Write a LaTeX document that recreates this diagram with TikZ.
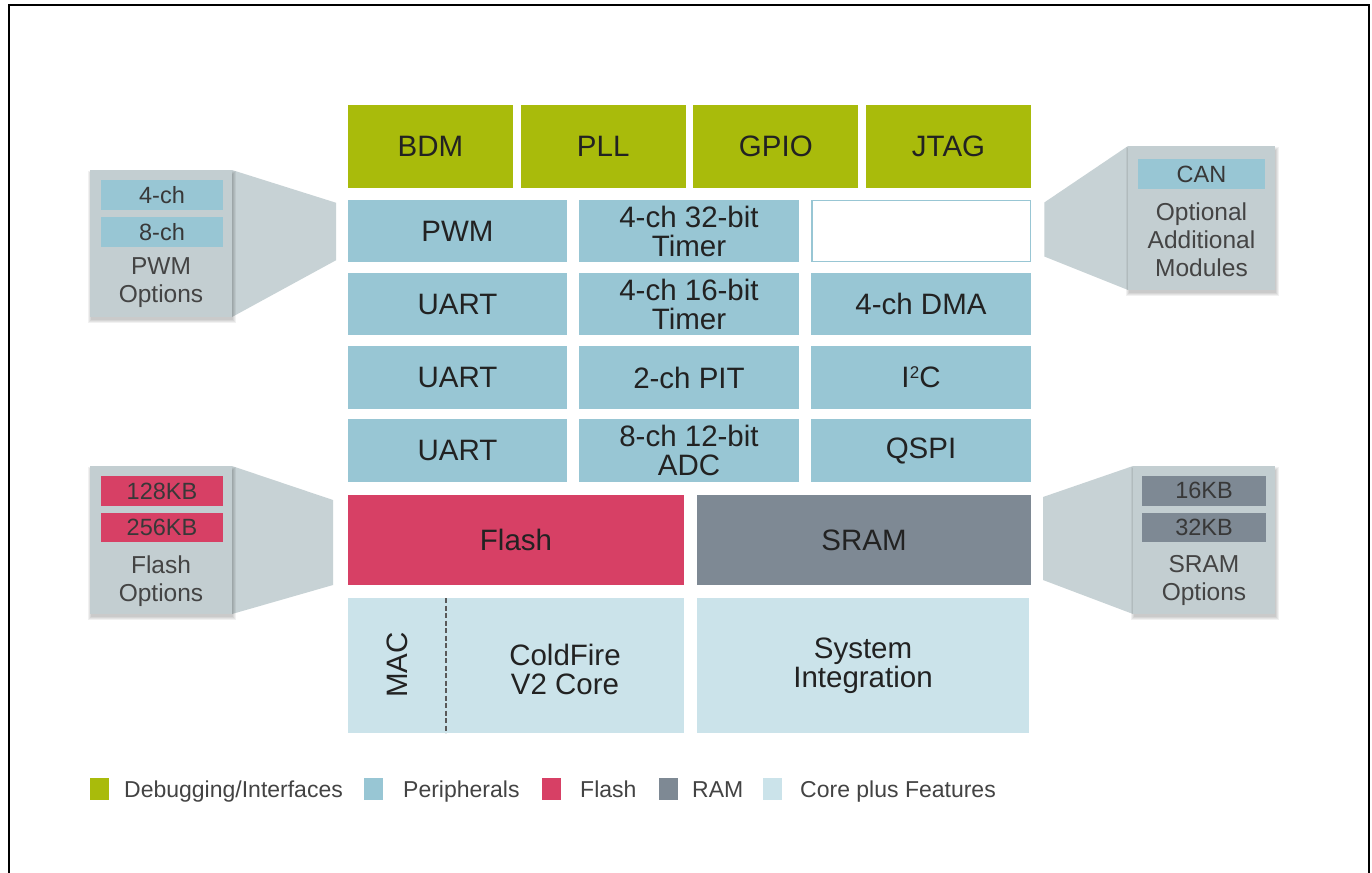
\documentclass[tikz,border=0pt]{standalone}
\usepackage{fontspec}
\setmainfont{Liberation Sans}
\usetikzlibrary{calc}
\definecolor{dbg}{HTML}{A9BB0B}
\definecolor{per}{HTML}{98C6D4}
\definecolor{fla}{HTML}{D74065}
\definecolor{ram}{HTML}{7E8994}
\definecolor{cor}{HTML}{CBE3EA}
\definecolor{opt}{HTML}{C3CED1}
\definecolor{trapc}{HTML}{C7D2D5}
\definecolor{txt}{HTML}{222222}
\definecolor{otxt}{HTML}{444444}
\pgfdeclarelayer{back}
\pgfdeclarelayer{shade}
\pgfsetlayers{back,shade,main}
\begin{document}
\begin{tikzpicture}[x=1pt,y=-1pt,
  blk/.style={inner sep=0pt, outer sep=0pt, align=center, text=txt, font=\fontsize{29.5}{29}\selectfont},
  gblk/.style={blk, fill=dbg, minimum width=165pt, minimum height=83pt},
  pblk/.style={blk, fill=per, minimum width=220pt, minimum height=62.5pt},
  optbox/.style={inner sep=0pt, outer sep=0pt, fill=opt, minimum height=147pt, minimum width=142pt},
  sbox/.style={inner sep=0pt, outer sep=0pt, minimum height=30pt, text=txt!90, font=\fontsize{23.5}{24}\selectfont},
  otx/.style={inner sep=0pt, align=center, text=otxt, font=\fontsize{24.5}{28}\selectfont},
  legsq/.style={inner sep=0pt, minimum width=19pt, minimum height=22pt},
  legtx/.style={inner sep=0pt, anchor=base west, text=txt!85, font=\fontsize{23}{24}\selectfont},
  trap/.style={fill=trapc}
]
\useasboundingbox (0,0) rectangle (1372,872);
\begin{pgfonlayer}{back}
\fill[white] (0,0) rectangle (1372,872);
\end{pgfonlayer}
\draw[line width=2pt] (9,880) -- (9,5) -- (1369,5) -- (1369,880);

% debugging / interfaces
\node[gblk] (bdm)  at (430.5,146.5) {BDM};
\node[gblk] (pll)  at (603.2,146.5) {PLL};
\node[gblk] (gpio) at (775.8,146.5) {GPIO};
\node[gblk] (jtag) at (948.5,146.5) {JTAG};

% peripherals
\node[pblk, minimum width=219pt] (pwm) at (457.5,231) {PWM};
\node[pblk] (t32) at (689,231) {4-ch 32-bit\\Timer};
\node[pblk, fill=white, draw=per, line width=1.5pt, minimum width=218.5pt, minimum height=61pt] (empty) at (921,231) {};
\node[pblk, minimum width=219pt] (uart1) at (457.5,304) {UART};
\node[pblk] (t16) at (689,304) {4-ch 16-bit\\Timer};
\node[pblk] (dma) at (921,304) {4-ch DMA};
\node[pblk, minimum width=219pt] (uart2) at (457.5,377.5) {UART};
\node[pblk] (pit) at (689,377.5) {2-ch PIT};
\node[pblk] (i2c) at (921,377.5) {I\kern0.5pt\raisebox{9pt}[0pt][0pt]{\fontsize{17}{17}\selectfont 2}C};
\node[pblk, minimum width=219pt] (uart3) at (457.5,450.5) {UART};
\node[pblk] (adc) at (689,450.5) {8-ch 12-bit\\ADC};
\node[pblk] (qspi) at (921,450.5) {QSPI};

% memories
\node[blk, fill=fla, minimum width=336pt, minimum height=90pt] (flash) at (516,540) {Flash};
\node[blk, fill=ram, minimum width=334pt, minimum height=90pt] (sram) at (864,540) {SRAM};

% core
\node[blk, fill=cor, minimum width=336pt, minimum height=135pt] (core) at (516,665.5) {};
\node[blk, rotate=90] (mac) at (397,665) {MAC};
\node[blk] (cf) at (565,669) {ColdFire\\V2 Core};
\draw[black!65, line width=1.6pt, dash pattern=on 5pt off 2.5pt] ($(core.north west)+(98,0)$) -- ($(core.south west)+(98,0)$);
\node[blk, fill=cor, minimum width=332pt, minimum height=135pt] (sysint) at (863,665.5) {System\\Integration};

% option callouts
\node[optbox] (pwmopt) at (161,243.5) {};
\node[sbox, fill=per, minimum width=122pt] (pwm4) at (162,195) {4-ch};
\node[sbox, fill=per, minimum width=122pt] (pwm8) at (162,232) {8-ch};
\node[otx] (pwmtx) at (161,283) {PWM\\Options};

\node[optbox, minimum width=147pt, minimum height=144pt] (canopt) at (1201.5,218) {};
\node[sbox, fill=per, minimum width=127pt] (can) at (1201.5,174) {CAN};
\node[otx] (cantx) at (1201.5,240) {Optional\\Additional\\Modules};

\node[optbox, minimum height=148pt] (flaopt) at (161,540) {};
\node[sbox, fill=fla, minimum width=122pt] (f128) at (162,491) {128KB};
\node[sbox, fill=fla, minimum width=122pt, minimum height=29pt] (f256) at (162,527.5) {256KB};
\node[otx] (flatx) at (161,581) {Flash\\Options};

\node[optbox, minimum height=148pt] (ramopt) at (1204,540) {};
\node[sbox, fill=ram, minimum width=124pt] (r16) at (1204,490.5) {16KB};
\node[sbox, fill=ram, minimum width=124pt, minimum height=29pt] (r32) at (1204,527.5) {32KB};
\node[otx] (ramtx) at (1204,580.5) {SRAM\\Options};

% funnels
\begin{pgfonlayer}{back}
\fill[trap] (pwmopt.north east) -- ($(pwm.north west)+(-12,3)$) -- ($(pwm.south west)+(-12,-2)$) -- (pwmopt.south east) -- cycle;
\fill[trap] (canopt.north west) -- ($(empty.north east)+(14,2)$) -- ($(empty.south east)+(14,-5)$) -- (canopt.south west) -- cycle;
\fill[trap] (flaopt.north east) -- ($(flash.north west)+(-15,5)$) -- ($(flash.south west)+(-15,0)$) -- (flaopt.south east) -- cycle;
\fill[trap] (ramopt.north west) -- ($(sram.north east)+(12,2)$) -- ($(sram.south east)+(12,-5)$) -- (ramopt.south west) -- cycle;
\end{pgfonlayer}

% soft shadows
\begin{pgfonlayer}{shade}
\foreach \n in {pwmopt,canopt,flaopt,ramopt}{
  \foreach \k in {0,...,3}{
    \fill[black, opacity=0.055] ($(\n.north west)+(0.5-\k,4-\k)$) rectangle ($(\n.south east)+(0.5+\k,3+\k)$);
  }
}
\end{pgfonlayer}

% legend
\node[legsq, fill=dbg] (lg1) at (99.5,789) {};
\node[legtx] (lt1) at (124,797) {Debugging/Interfaces};
\node[legsq, fill=per] (lg2) at (373.5,789) {};
\node[legtx] (lt2) at (403,797) {Peripherals};
\node[legsq, fill=fla] (lg3) at (551,789) {};
\node[legtx] (lt3) at (580,797) {Flash};
\node[legsq, fill=ram] (lg4) at (668,789) {};
\node[legtx] (lt4) at (692,797) {RAM};
\node[legsq, fill=cor] (lg5) at (772,789) {};
\node[legtx] (lt5) at (800,797) {Core plus Features};
\end{tikzpicture}
\end{document}
